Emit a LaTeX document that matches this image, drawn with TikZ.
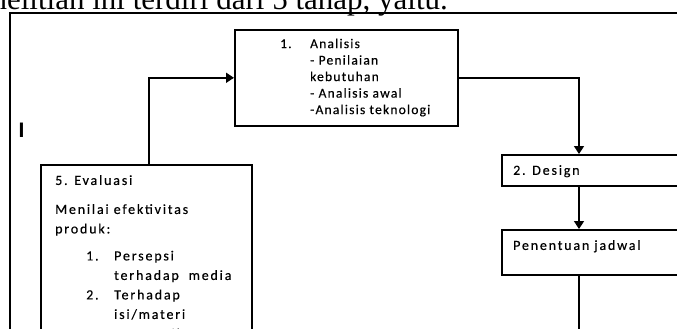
\documentclass[tikz,border=0pt]{standalone}
\usepackage{fontspec}
\usetikzlibrary{arrows.meta}
\usetikzlibrary{positioning}
\newfontfamily\boxfont[LetterSpace=13,FakeBold=0.4]{Carlito}
\newfontfamily\boxfontsmall[LetterSpace=9,FakeBold=0.4]{Carlito}
\newfontfamily\pagefont{Liberation Serif}
\newfontfamily\markfont{Liberation Sans}
\tikzset{
    kotak/.style = {draw, line width=1.6pt, anchor=north west, inner sep=0pt},
    teks/.style = {inner sep=0pt, align=left, font=\boxfont\fontsize{14}{19.5}\selectfont},
    teks kecil/.style = {inner sep=0pt, align=left, font=\boxfontsmall\fontsize{13.5}{16.5}\selectfont},
    panah/.style = {line width=1.6pt, ->},
    >={Triangle[length=8pt,width=10pt]}
}

\begin{document}
\begin{tikzpicture}[x=1pt, y=-1pt]
    \useasboundingbox (0,0) rectangle (677,329);
    % teks halaman dan bingkai
    \node (judul) [anchor=base east, inner sep=0pt, font=\pagefont\fontsize{31}{36}\selectfont] at (448,9.3) {penelitian ini terdiri dari 5 tahap, yaitu.};
    \draw[line width=1.3pt] (10,345) -- (10,13) -- (690,13);
    \node (kursor) [anchor=base, inner sep=0pt, font=\markfont\bfseries\fontsize{21}{21}\selectfont] at (21.5,137) {I};
    % kotak
    \node (analisis) [kotak, minimum width=223pt, minimum height=96pt] at (234,29) {};
    \node (design) [kotak, minimum width=260pt, minimum height=31pt] at (501,154) {};
    \node (jadwal) [kotak, minimum width=260pt, minimum height=45pt] at (501,229) {};
    \node (evaluasi) [kotak, minimum width=211pt, minimum height=230pt] at (40,164) {};
    % isi kotak
    \node (analisisT) [teks kecil, below right=9.5pt and 46pt of analisis.north west] {\makebox[30pt][l]{1.}Analisis\\
        \hspace*{30pt}- Penilaian\\
        \hspace*{30pt}kebutuhan\\
        \hspace*{30pt}- Analisis awal\\
        \hspace*{30pt}-Analisis teknologi};
    \node (designT) [teks, below right=11pt and 12pt of design.north west] {2. Design};
    \node (jadwalT) [teks, below right=11pt and 12pt of jadwal.north west] {Penentuan jadwal};
    \node (evaluasiT) [teks, below right=11pt and 15pt of evaluasi.north west] {5. Evaluasi\\[9.5pt]
        Menilai efektivitas\\
        produk:\\[7.5pt]
        \hspace*{31pt}\makebox[28pt][l]{1.}Persepsi\\
        \hspace*{59pt}terhadap\ \ media\\
        \hspace*{31pt}\makebox[28pt][l]{2.}Terhadap\\
        \hspace*{59pt}isi/materi\\
        \hspace*{31pt}\makebox[28pt][l]{3.}Penampilan};
    % panah
    \coordinate (jalur) at (579,0);
    \coordinate (bawah) at (579,345);
    \draw[panah] ([xshift=2.5pt]evaluasi.north) |- (analisis.west);
    \draw[panah] (analisis.east) -| (design.north -| jalur);
    \draw[panah] (design.south -| jalur) -- (jadwal.north -| jalur);
    \draw[line width=1.6pt] (jadwal.south -| jalur) -- (bawah);
\end{tikzpicture}
\end{document}
